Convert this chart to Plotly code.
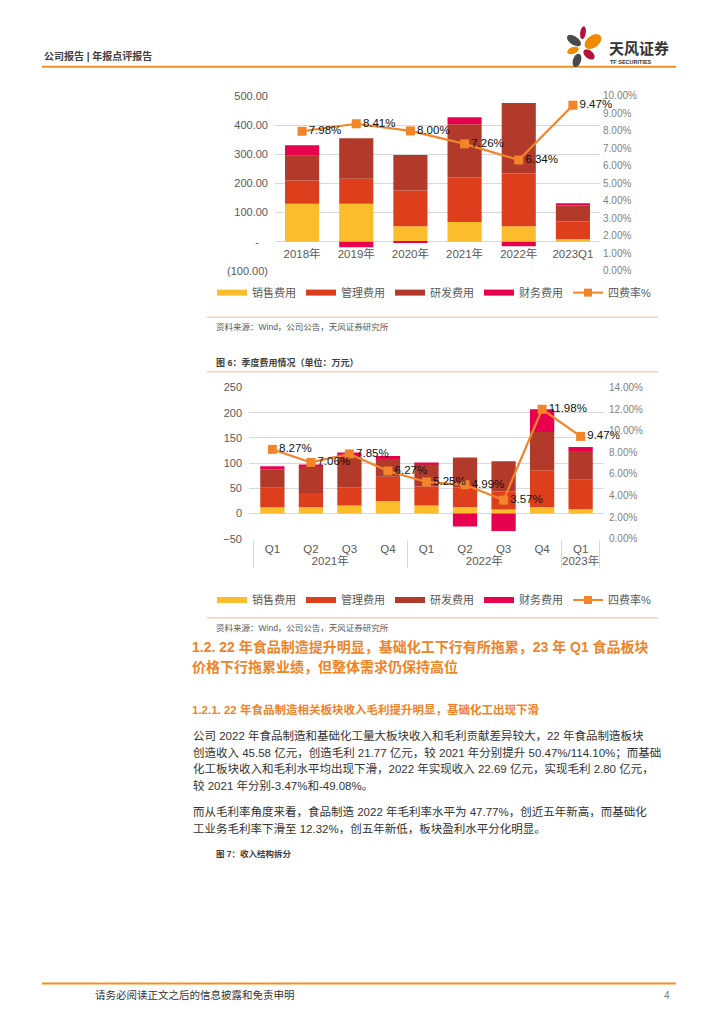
import math
import plotly.graph_objects as go

W, H = 724, 1024
FONT = "Liberation Sans, Noto Sans CJK SC, sans-serif"
GRAY = "#595959"
GRID = "#D9D9D9"


def px(x):
    return x / W


def py(y):
    return 1 - y / H


# ---- chart 1: annual expenses (万元) ----
years = ["2018年", "2019年", "2020年", "2021年", "2022年", "2023Q1"]
sales_y = [130, 130, 53, 68, 53, 9]
admin_y = [80, 86, 123, 152, 181, 60]
rd_y = [85, 139, 121, 183, 242, 55]
fin_y = [36, -19, -3, 24, -16, 8]
rate_y = [7.98, 8.41, 8.00, 7.26, 6.34, 9.47]

y1_ticks = [-100, 0, 100, 200, 300, 400, 500]
y1_text = ["(100.00)", "-\u00a0\u00a0\u00a0", "100.00", "200.00", "300.00", "400.00", "500.00"]

# ---- chart 2: quarterly expenses (万元) ----
q_year = ["2021年"] * 4 + ["2022年"] * 4 + ["2023年"]
q_name = ["Q1", "Q2", "Q3", "Q4", "Q1", "Q2", "Q3", "Q4", "Q1"]
sales_q = [12.4, 13, 15.7, 25, 16, 13, 7.8, 13, 8.4]
admin_q = [38.5, 27.5, 36.5, 48, 37.5, 39, 36, 73, 58.7]
rd_q = [37, 53.5, 61, 35, 45, 59, 60, 75.7, 57]
fin_q = [6, 1.5, 8, 6, 1.5, -26, -34.7, 45, 7.7]
rate_q = [8.27, 7.06, 7.85, 6.27, 5.25, 4.99, 3.57, 11.98, 9.47]

series = ["销售费用", "管理费用", "研发费用", "财务费用"]
colors = ["#FBBD2C", "#DD3F1C", "#B23A2B", "#E6004D"]
rate_name = "四费率%"
rate_color = "#F2852A"

fig = go.Figure()

for name, vals, c in zip(series, [sales_y, admin_y, rd_y, fin_y], colors):
    fig.add_trace(go.Bar(x=years, y=vals, name=name, marker_color=c,
                         marker_line_width=0, showlegend=False,
                         xaxis="x", yaxis="y"))
fig.add_trace(go.Scatter(x=years, y=rate_y, name=rate_name, mode="lines+markers+text",
                         line=dict(color=rate_color, width=2.2),
                         marker=dict(symbol="square", size=9, color=rate_color),
                         text=[f"{v:.2f}%" for v in rate_y], textposition="middle right",
                         textfont=dict(size=11.5, color="#111111"), cliponaxis=False,
                         showlegend=False, xaxis="x", yaxis="y2"))

qx = [q_year, q_name]
for name, vals, c in zip(series, [sales_q, admin_q, rd_q, fin_q], colors):
    fig.add_trace(go.Bar(x=qx, y=vals, name=name, marker_color=c,
                         marker_line_width=0, showlegend=False,
                         xaxis="x2", yaxis="y3"))
fig.add_trace(go.Scatter(x=qx, y=rate_q, name=rate_name, mode="lines+markers+text",
                         line=dict(color=rate_color, width=2.2),
                         marker=dict(symbol="square", size=9, color=rate_color),
                         text=[f"{v:.2f}%" for v in rate_q], textposition="middle right",
                         textfont=dict(size=11.5, color="#111111"), cliponaxis=False,
                         showlegend=False, xaxis="x2", yaxis="y4"))

# legend entries (wide flat swatches like the source)
for lg in ["legend", "legend2"]:
    for name, c in zip(series, colors):
        fig.add_trace(go.Scatter(x=[None], y=[None], mode="lines", name=name,
                                 line=dict(color=c, width=6), legend=lg,
                                 xaxis="x", yaxis="y"))
    fig.add_trace(go.Scatter(x=[None], y=[None], mode="lines+markers", name=rate_name,
                             line=dict(color=rate_color, width=2),
                             marker=dict(symbol="square", size=8, color=rate_color),
                             legend=lg, xaxis="x", yaxis="y"))

legend_style = dict(orientation="h", xanchor="center", yanchor="middle",
                    font=dict(size=11, color=GRAY), itemwidth=30,
                    bgcolor="rgba(0,0,0,0)", tracegroupgap=0)

fig.update_layout(
    width=W, height=H, margin=dict(l=0, r=0, t=0, b=0),
    paper_bgcolor="white", plot_bgcolor="white",
    barmode="relative", bargap=0.37,
    font=dict(family=FONT, color=GRAY, size=11),
    xaxis=dict(domain=[px(275), px(600)], anchor="free", position=py(238),
               showgrid=False, showline=False, ticks="", zeroline=False,
               tickfont=dict(size=11.5, color=GRAY), ticklabelstandoff=4),
    yaxis=dict(domain=[py(268), py(91)], range=[-100, 500], anchor="x",
               tickvals=y1_ticks, ticktext=y1_text, showgrid=True, gridcolor=GRID,
               zeroline=False, showline=False, ticks="",
               tickfont=dict(size=11, color=GRAY), ticklabelstandoff=6),
    yaxis2=dict(overlaying="y", side="right", range=[0, 10], dtick=1,
                tickformat=".2f", ticksuffix="%", showgrid=False, zeroline=False,
                showline=False, ticks="", tickfont=dict(size=10, color="#7F7F7F"),
                ticklabelstandoff=2),
    xaxis2=dict(domain=[px(249), px(604)], anchor="y3", type="multicategory",
                showdividers=True, dividercolor=GRID, dividerwidth=1,
                showgrid=False, showline=False, ticks="", zeroline=False,
                tickfont=dict(size=11.5, color=GRAY), ticklabelstandoff=2),
    yaxis3=dict(domain=[py(539), py(386)], range=[-50, 250], dtick=50, anchor="x2",
                showgrid=True, gridcolor=GRID, zeroline=False, showline=False,
                ticks="", tickfont=dict(size=11, color=GRAY), ticklabelstandoff=6),
    yaxis4=dict(overlaying="y3", side="right", range=[0, 14], dtick=2,
                tickformat=".2f", ticksuffix="%", showgrid=False, zeroline=False,
                showline=False, ticks="", tickfont=dict(size=10, color="#7F7F7F"),
                ticklabelstandoff=8),
    legend=dict(x=px(434), y=py(290), **legend_style),
    legend2=dict(x=px(434), y=py(601), **legend_style),
)

# ---- page furniture ----
shapes = []
ann = []


def hline(y, x0, x1, color, width):
    shapes.append(dict(type="line", xref="paper", yref="paper", x0=px(x0), x1=px(x1),
                       y0=py(y), y1=py(y), line=dict(color=color, width=width)))


def text(x, y, s, size, color, anchor="left", bold=False):
    ann.append(dict(xref="paper", yref="paper", x=px(x), y=py(y), text=f"<b>{s}</b>" if bold else s,
                    showarrow=False, xanchor=anchor, yanchor="middle",
                    font=dict(size=size, color=color, family=FONT)))


def petal(cx, cy, rx, ry, ang, color):
    a = math.radians(ang)
    pts = []
    for i in range(28):
        t = 2 * math.pi * i / 28
        ex, ey = rx * math.cos(t), ry * math.sin(t)
        pts.append((px(cx + ex * math.cos(a) - ey * math.sin(a)),
                    py(cy + ex * math.sin(a) + ey * math.cos(a))))
    path = "M" + " L".join(f"{u:.5f},{v:.5f}" for u, v in pts) + " Z"
    shapes.append(dict(type="path", xref="paper", yref="paper", path=path,
                       fillcolor=color, line=dict(width=0)))


# header
text(42, 51, "公司报告 | 年报点评报告", 10, "#404040", bold=True)
hline(61.5, 42, 676, "#F0901E", 2)
petal(583, 27, 2.8, 6.5, 8, "#B5123A")
petal(574, 35, 8, 4.2, 35, "#4A4A4A")
petal(593, 36, 9.5, 6, -38, "#F08A00")
petal(573, 45, 6, 3.4, -20, "#F08A00")
petal(589, 49, 6.5, 4, 40, "#B5123A")
petal(577, 55, 4, 7, 18, "#4A4A4A")
text(607, 43, "天风证券", 15, "#333333", bold=True)
text(608, 56.5, "TF SECURITIES", 5.5, "#333333", bold=True)

# chart captions / sources
hline(315, 207, 658, "#FAD2AE", 1.5)
text(214, 325, "资料来源：Wind，公司公告，天风证券研究所", 8.5, GRAY)
text(214, 361, "图 6：季度费用情况（单位：万元）", 9, "#404040", bold=True)
hline(370, 207, 658, "#FAD2AE", 1.5)
hline(619, 207, 658, "#FAD2AE", 1.5)
text(214, 629, "资料来源：Wind，公司公告，天风证券研究所", 8.5, GRAY)

# headings
ORANGE = "#F0832A"
text(190, 649, "1.2. 22 年食品制造提升明显，基础化工下行有所拖累，23 年 Q1 食品板块", 14, ORANGE, bold=True)
text(190, 669, "价格下行拖累业绩，但整体需求仍保持高位", 14, ORANGE, bold=True)
text(190, 712, "1.2.1. 22 年食品制造相关板块收入毛利提升明显，基础化工出现下滑", 11.5, ORANGE, bold=True)

body = [
    (738, "公司 2022 年食品制造和基础化工量大板块收入和毛利贡献差异较大，22 年食品制造板块"),
    (755, "创造收入 45.58 亿元，创造毛利 21.77 亿元，较 2021 年分别提升 50.47%/114.10%；而基础"),
    (772, "化工板块收入和毛利水平均出现下滑，2022 年实现收入 22.69 亿元，实现毛利 2.80 亿元，"),
    (789, "较 2021 年分别-3.47%和-49.08%。"),
    (815, "而从毛利率角度来看，食品制造 2022 年毛利率水平为 47.77%，创近五年新高，而基础化"),
    (832, "工业务毛利率下滑至 12.32%，创五年新低，板块盈利水平分化明显。"),
]
for yy, s in body:
    text(191, yy, s, 11.5, "#333333")

text(214, 858, "图 7：收入结构拆分", 8.5, "#404040", bold=True)

# footer
hline(989, 42, 676, "#F0901E", 2)
text(93, 1001, "请务必阅读正文之后的信息披露和免责申明", 10.5, "#333333")
text(672, 1001, "4", 10, "#7F7F7F", anchor="right")

fig.update_layout(shapes=shapes, annotations=ann)

# page is exactly the window size: drop the default body margin
fig.write_html("out.html", config={"displayModeBar": False},
               post_script="document.body.style.margin='0';"
                           "document.documentElement.style.overflow='hidden';")
